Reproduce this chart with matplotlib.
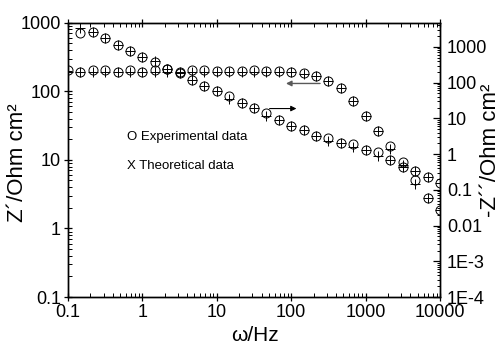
import numpy as np
import matplotlib.pyplot as plt
from matplotlib.ticker import LogLocator, NullFormatter

plt.rcParams['font.family'] = ['Liberation Sans', 'DejaVu Sans']

# frequencies, 6 points per decade
freq = [0.1, 0.147, 0.215, 0.316, 0.464, 0.681, 1, 1.47, 2.15, 3.16, 4.64, 6.81,
        10, 14.7, 21.5, 31.6, 46.4, 68.1, 100, 147, 215, 316, 464, 681,
        1000, 1470, 2150, 3160, 4640, 6810, 10000]

# Z' (left axis)
zre_exp = [204, 190, 204, 204, 190, 204, 191, 206, 208, 192, 204, 204,
           198, 198, 198, 204, 196, 196, 192, 182, 168, 142, 110, 71,
           43.5, 26.5, 16.0, 9.4, 5.05, 2.8, 1.85]
zre_th = [190, 190, 190, 190, 190, 190, 190, 190, 192, 192, 190, 190,
          190, 190, 190, 190, 190, 190, 188, 180, 166, 140, 110, 71,
          43, 26.5, 14.3, 8.4, 4.4, 2.75, 1.83]

# -Z'' (right axis)
zim_exp = [np.nan, 2480, 2550, 1730, 1145, 778, 528, 383, 239, 181, 117, 82,
           59, 42, 26, 19, 14.3, 9.2, 6.1, 4.7, 3.2, 2.8, 2.06, 1.9,
           1.29, 1.11, 0.675, 0.43, 0.343, 0.23, 0.153]
zim_th = [np.nan, 3300, 2550, 1730, 1145, 778, 528, 400, 239, 181, 117, 82,
          59, 34.5, 26, 19, 11.5, 9.2, 6.1, 4.7, 3.2, 2.3, 2.06, 1.56,
          1.29, 0.9, 0.675, 0.43, 0.343, 0.23, 0.153]

xticks = [0.1, 1, 10, 100, 1000, 10000]
xtick_labels = ['0.1', '1', '10', '100', '1000', '10000']
yticks = [0.1, 1, 10, 100, 1000]
ytick_labels = ['0.1', '1', '10', '100', '1000']
y2ticks = [1e-4, 1e-3, 0.01, 0.1, 1, 10, 100, 1000]
y2tick_labels = ['1E-4', '1E-3', '0.01', '0.1', '1', '10', '100', '1000']

fig = plt.figure(figsize=(5.03, 3.45), dpi=100)
ax = fig.add_axes([0.1352, 0.1391, 0.7396, 0.7951])
ax2 = ax.twinx()

ax.set_xscale('log')
ax.set_yscale('log')
ax2.set_yscale('log')
ax.set_xlim(0.1, 10000)
ax.set_ylim(0.1, 1000)
ax2.set_ylim(1e-4, 4730)

mk = dict(linestyle='none', color='k', mew=0.7)
ax.plot(freq, zre_exp, marker='o', mfc='none', ms=6.5, **mk)
ax.plot(freq, zre_th, marker='+', ms=7, **mk)
ax2.plot(freq, zim_exp, marker='o', mfc='none', ms=6.5, **mk)
ax2.plot(freq, zim_th, marker='+', ms=7, **mk)

ax.set_xticks(xticks)
ax.set_xticklabels(xtick_labels)
ax.set_yticks(yticks)
ax.set_yticklabels(ytick_labels)
ax2.set_yticks(y2ticks)
ax2.set_yticklabels(y2tick_labels)
for a in (ax.xaxis, ax.yaxis, ax2.yaxis):
    a.set_minor_locator(LogLocator(base=10, subs=np.arange(2, 10), numticks=20))
    a.set_minor_formatter(NullFormatter())

ax.tick_params(which='major', direction='inout', length=6, width=0.9, labelsize=13,
               top=True, pad=2)
ax.tick_params(which='minor', direction='in', length=3, width=0.7, top=True)
ax2.tick_params(which='major', direction='in', length=5, width=0.9, labelsize=13, pad=5)
ax2.tick_params(which='minor', direction='in', length=2.5, width=0.7)
for a in (ax, ax2):
    for s in a.spines.values():
        s.set_linewidth(1.0)

ax.set_xlabel('ω/Hz', fontsize=15)
ax.xaxis.set_label_coords(0.503, -0.105)
ax.set_ylabel('Z´/Ohm cm²', fontsize=16)
ax.yaxis.set_label_coords(-0.108, 0.49)
ax2.set_ylabel('-Z´´/Ohm cm²', fontsize=16)
ax2.yaxis.set_label_coords(1.107, 0.533)

ax.text(0.159, 0.584, 'O Experimental data', transform=ax.transAxes,
        fontsize=9.5, va='center')
ax.text(0.159, 0.478, 'X Theoretical data', transform=ax.transAxes,
        fontsize=9.5, va='center')

# arrows pointing to the axis of each curve
ax.annotate('', xy=(78, 130), xytext=(266, 130),
            arrowprops=dict(arrowstyle='-|>', color='0.35', lw=1, mutation_scale=8))
ax.annotate('', xy=(128, 56), xytext=(47, 56),
            arrowprops=dict(arrowstyle='-|>', color='k', lw=0.8, mutation_scale=8))

fig.savefig('out.png', dpi=100)
